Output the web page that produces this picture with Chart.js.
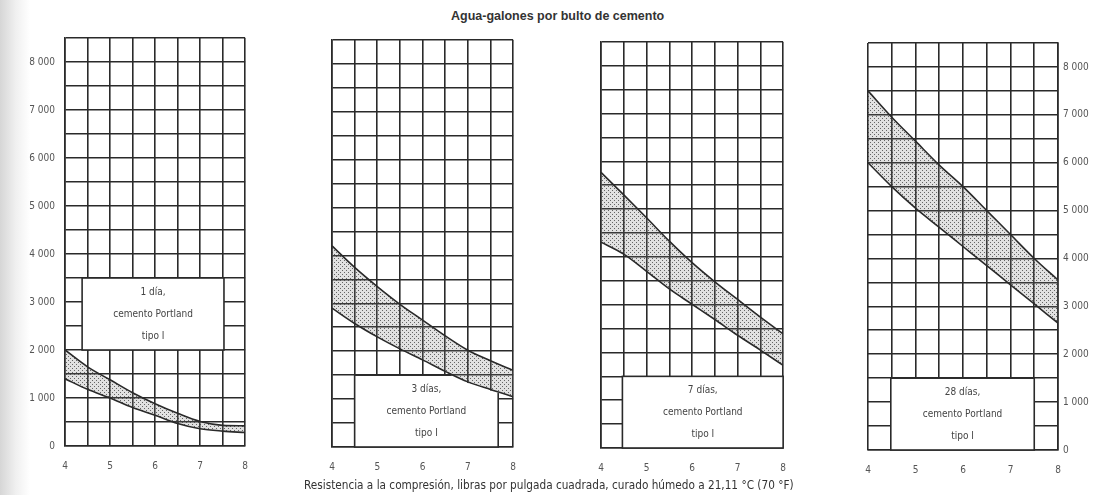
<!DOCTYPE html>
<html>
<head>
<meta charset="utf-8">
<script src="https://cdn.jsdelivr.net/npm/chart.js@4"></script>
<style>
    body { margin: 0; width: 1104px; height: 495px; position: relative; overflow: hidden;
           background: linear-gradient(to right, #d6d6d6 0px, #f0f0f0 16px, #ffffff 30px); }
    canvas { position: absolute; }
    .txt { position: absolute; font-family: 'Liberation Sans Narrow', 'DejaVu Sans Condensed', sans-serif; color: #333; white-space: nowrap; }
    #title { left: 451px; top: 9px; font-size: 12.5px; font-weight: bold; font-family: 'Liberation Sans', Arial, sans-serif; }
    #caption { left: 304px; top: 478px; font-size: 11.7px; }
</style>
</head>
<body>
<div id="title" class="txt">Agua-galones por bulto de cemento</div>
<canvas id="panel1" width="262" height="495" style="left:0;top:0"></canvas>
<canvas id="panel2" width="230" height="495" style="left:300px;top:0"></canvas>
<canvas id="panel3" width="230" height="495" style="left:570px;top:0"></canvas>
<canvas id="panel4" width="264" height="495" style="left:840px;top:0"></canvas>
<div id="caption" class="txt">Resistencia a la compresión, libras por pulgada cuadrada, curado húmedo a 21,11 °C (70 °F)</div>
<script>
// datos
const waterGallons = [4, 4.5, 5, 5.5, 6, 6.5, 7, 7.5, 8];

const day1Upper = [2000, 1650, 1380, 1110, 880, 680, 510, 430, 420];
const day1Lower = [1400, 1180, 1000, 800, 640, 470, 360, 310, 280];

const day3Upper = [4200, 3750, 3350, 2980, 2650, 2320, 2020, 1800, 1600];
const day3Lower = [2900, 2580, 2300, 2050, 1820, 1580, 1360, 1200, 1050];

const day7Upper = [5770, 5300, 4820, 4330, 3880, 3480, 3110, 2740, 2390];
const day7Lower = [4310, 4060, 3700, 3330, 3010, 2690, 2360, 2050, 1730];

const day28Upper = [7500, 6950, 6450, 5950, 5500, 5000, 4500, 4000, 3550];
const day28Lower = [6000, 5500, 5050, 4650, 4250, 3850, 3450, 3050, 2650];

const xTicks = [4, 5, 6, 7, 8];
const yTicks = [0, 1000, 2000, 3000, 4000, 5000, 6000, 7000, 8000];

const labelFont = { family: "'Liberation Sans Narrow', 'DejaVu Sans Condensed', sans-serif", size: 10 };

// relleno punteado de la banda (semi transparente, deja ver la cuadricula)
function stipple() {
    let c = document.createElement('canvas');
    c.width = 4; c.height = 4;
    let g = c.getContext('2d');
    g.fillStyle = 'rgba(120,120,120,0.22)';
    g.fillRect(0, 0, 4, 4);
    g.fillStyle = 'rgba(60,60,60,0.75)';
    g.fillRect(0, 0, 1, 1);
    g.fillRect(2, 2, 1, 1);
    return g.createPattern(c, 'repeat');
}

// recuadro de texto dentro del grafico (opcionalmente recortado bajo la curva inferior)
const textBox = {
    id: 'textBox',
    beforeDatasetsDraw(chart, args, opts) {
        if (!opts.lines) return;
        let ctx = chart.ctx, x = chart.scales.x, y = chart.scales.y, area = chart.chartArea;
        let l = x.getPixelForValue(opts.x0), r = x.getPixelForValue(opts.x1);
        let t = y.getPixelForValue(opts.y1), b = y.getPixelForValue(opts.y0);
        ctx.save();
        if (opts.clip) {
            ctx.beginPath();
            ctx.moveTo(area.left, area.bottom + 2);
            chart.getDatasetMeta(1).data.forEach(p => ctx.lineTo(p.x, p.y + 1));
            ctx.lineTo(area.right, area.bottom + 2);
            ctx.closePath();
            ctx.clip();
        }
        ctx.fillStyle = '#fff';
        ctx.fillRect(l, t, r - l, b - t);
        ctx.strokeStyle = '#2a2a2a';
        ctx.lineWidth = 1.6;
        ctx.strokeRect(l, t, r - l, b - t);
        ctx.fillStyle = '#444';
        ctx.font = "10px 'Liberation Sans Narrow', 'DejaVu Sans Condensed', sans-serif";
        ctx.textAlign = 'center';
        ctx.textBaseline = 'middle';
        let cx = (l + r) / 2, cy = (t + b) / 2;
        opts.lines.forEach((s, i) => {
            ctx.fillText(s, cx, cy + (i - (opts.lines.length - 1) / 2) * 22);
        });
        ctx.restore();
    }
};

function pts(arr) {
    return waterGallons.map((x, i) => ({ x: x, y: arr[i] }));
}

function makePanel(id, upper, lower, cfg) {
    new Chart(id, {
        type: 'line',
        data: {
            datasets: [{
                data: pts(upper),
                borderColor: '#2a2a2a',
                borderWidth: 1.6,
                pointRadius: 0,
                cubicInterpolationMode: 'monotone',
                fill: '+1',
                backgroundColor: stipple(),
                order: 1
            }, {
                data: pts(lower),
                borderColor: '#2a2a2a',
                borderWidth: 1.6,
                pointRadius: 0,
                cubicInterpolationMode: 'monotone',
                fill: false,
                order: 0
            }]
        },
        options: {
            responsive: false,
            animation: false,
            layout: { padding: cfg.padding },
            plugins: {
                legend: { display: false },
                tooltip: { enabled: false },
                textBox: cfg.box
            },
            scales: {
                x: {
                    type: 'linear', min: 4, max: 8,
                    afterFit: s => { s.height = 495 - cfg.bottom; },
                    ticks: {
                        stepSize: 0.5, autoSkip: false, padding: 14,
                        color: '#555', font: labelFont,
                        callback: v => xTicks.includes(v) ? String(v) : ''
                    },
                    grid: { color: '#2a2a2a', lineWidth: 1.6, drawTicks: false },
                    border: { color: '#2a2a2a', width: 1.6 }
                },
                y: {
                    min: 0, max: 8500,
                    position: cfg.yPos,
                    afterFit: s => { s.width = cfg.yWidth; },
                    ticks: {
                        display: cfg.yLabels, stepSize: 500, autoSkip: false, padding: cfg.yPad,
                        color: '#555', font: labelFont,
                        callback: v => yTicks.includes(v) ? (v === 0 ? '0' : (v / 1000) + ' 000') : ''
                    },
                    grid: { color: '#2a2a2a', lineWidth: 1.6, drawTicks: false },
                    border: { color: '#2a2a2a', width: 1.6 }
                }
            }
        },
        plugins: [textBox]
    });
}

makePanel('panel1', day1Upper, day1Lower, {
    padding: { top: 38, right: 10, left: 0, bottom: 0 }, bottom: 446,
    yPos: 'left', yWidth: 65, yLabels: true, yPad: 10,
    box: { x0: 4.38, x1: 7.53, y0: 2000, y1: 3500, lines: ['1 día,', 'cemento Portland', 'tipo I'] }
});

makePanel('panel2', day3Upper, day3Lower, {
    padding: { top: 40, right: 8, left: 32, bottom: 0 }, bottom: 447,
    yPos: 'left', yWidth: 0, yLabels: false, yPad: 0,
    box: { x0: 4.5, x1: 7.67, y0: 0, y1: 1500, clip: true, lines: ['3 días,', 'cemento Portland', 'tipo I'] }
});

makePanel('panel3', day7Upper, day7Lower, {
    padding: { top: 42, right: 10, left: 31, bottom: 0 }, bottom: 448,
    yPos: 'left', yWidth: 0, yLabels: false, yPad: 0,
    box: { x0: 4.47, x1: 8, y0: 0, y1: 1500, lines: ['7 días,', 'cemento Portland', 'tipo I'] }
});

makePanel('panel4', day28Upper, day28Lower, {
    padding: { top: 43, right: 0, left: 28, bottom: 0 }, bottom: 450,
    yPos: 'right', yWidth: 46, yLabels: true, yPad: 5,
    box: { x0: 4.48, x1: 7.5, y0: 0, y1: 1500, lines: ['28 días,', 'cemento Portland', 'tipo I'] }
});
</script>
</body>
</html>
